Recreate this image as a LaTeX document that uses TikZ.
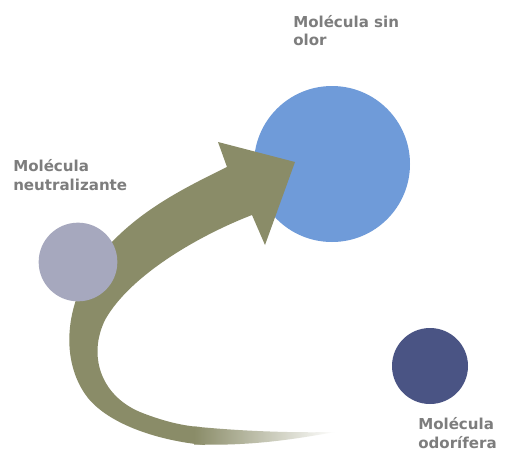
\documentclass[tikz,border=0pt]{standalone}
\usepackage{fontspec}
\setmainfont{DejaVu Sans}
\usepackage{tikz}
\usetikzlibrary{positioning}
\definecolor{swoosh}{HTML}{8A8C68}
\definecolor{neutral}{HTML}{A6A8BE}
\definecolor{odorless}{HTML}{6F9BD9}
\definecolor{odorous}{HTML}{4A5484}
\definecolor{labelgray}{HTML}{7D7D7D}
\tikzset{
  molecule/.style={
    circle, fill=#1, draw=none,
    inner sep=0pt
  },
  molecule/.default=neutral,
  molabel/.style={
    font=\bfseries\fontsize{11.3}{13.7}\selectfont,
    text=labelgray, align=left,
    inner sep=0pt, anchor=base west
  },
}

\begin{document}
\begin{tikzpicture}[x=0.75pt, y=-0.75pt]

% frame
\useasboundingbox[fill=white] (0,0) rectangle (507,450);

% Molecules
\node[molecule=odorless, minimum size=117pt] (sinolor) at (332,164) {};

% Curved arrow (drawn over the blue molecule)
\fill[swoosh] (295,162) -- (265,245) -- (252,215)
  .. controls (200,235) and (130,275) .. (105,320)
  .. controls (88,355) and (100,395) .. (140,412)
  .. controls (165,422) and (185,426) .. (200,427)
  -- (205,445)
  .. controls (160,441) and (110,425) .. (88,398)
  .. controls (62,365) and (62,310) .. (95,262)
  .. controls (130,215) and (180,190) .. (227,167)
  -- (218,142) -- cycle;
% fading tail
\shade[left color=swoosh, middle color=swoosh!55!white, right color=white]
  (194,426.5) .. controls (240,431) and (290,433) .. (335,432)
  .. controls (290,440) and (250,446) .. (194,444.5) -- cycle;

\node[molecule=neutral, minimum size=59pt] (neutra) at (78,262) {};
\node[molecule=odorous, minimum size=57pt] (odorif) at (430,366) {};

% Labels (anchor is the baseline of the last line)
\node[molabel] (sinlbl) at (293,45.5) {Molécula sin\\olor};
\node[molabel] (neulbl) at (13,190) {Molécula\\neutralizante};
\node[molabel] (odolbl) at (418,448) {Molécula\\odorífera};

\end{tikzpicture}
\end{document}
